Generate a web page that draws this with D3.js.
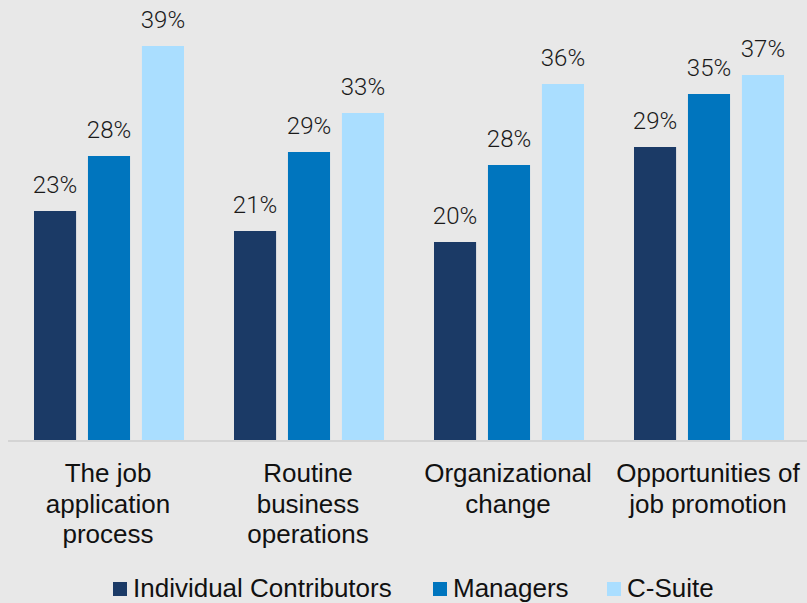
<!DOCTYPE html>
<html>
<head>
<meta charset="utf-8">
<script src="https://cdn.jsdelivr.net/npm/d3@7"></script>
<style>
  html, body { margin: 0; padding: 0; background: #e8e8e8; }
  svg { display: block; }
</style>
</head>
<body>
<div class="canvas"></div>
<script>
const categories = [
  ['The job', 'application', 'process'],
  ['Routine', 'business', 'operations'],
  ['Organizational', 'change'],
  ['Opportunities of', 'job promotion']
];
const seriesNames = ['Individual Contributors', 'Managers', 'C-Suite'];
// values; labels show the rounded figure
const contributors = [22.9, 20.9, 19.8, 29.3];
const managers = [28.4, 28.8, 27.5, 34.6];
const csuite = [39.4, 32.7, 35.6, 36.5];
const colors = ['#1b3a66', '#0075be', '#aadeff'];

const dims = { width: 807, height: 603 };
const baseY = 440;

const svg = d3.select('.canvas')
  .append('svg')
  .attr('width', dims.width)
  .attr('height', dims.height);

svg.append('rect')
  .attr('width', dims.width)
  .attr('height', dims.height)
  .attr('fill', '#e8e8e8');

const catKeys = categories.map(c => c.join(' '));

const x = d3.scaleBand()
  .domain(catKeys)
  .range([9, 809]);

const xInner = d3.scaleBand()
  .domain(seriesNames)
  .range([25, 175])
  .paddingInner(0.22);

const y = d3.scaleLinear()
  .domain([0, 40])
  .range([baseY, baseY - 400]);

const rows = catKeys.map((k, i) => ({
  key: k,
  values: [contributors[i], managers[i], csuite[i]]
}));

const groups = svg.selectAll('.group')
  .data(rows)
  .enter().append('g')
  .attr('class', 'group')
  .attr('transform', d => `translate(${x(d.key)}, 0)`);

const bars = groups.selectAll('.bar')
  .data(d => d.values.map((v, j) => ({ name: seriesNames[j], value: v, j })))
  .enter();

bars.append('rect')
  .attr('class', 'bar')
  .attr('x', d => xInner(d.name))
  .attr('y', d => y(d.value))
  .attr('width', xInner.bandwidth())
  .attr('height', d => y(0) - y(d.value))
  .attr('fill', d => colors[d.j]);

bars.append('text')
  .attr('x', d => xInner(d.name) + xInner.bandwidth() / 2)
  .attr('y', d => y(d.value) - 18)
  .attr('text-anchor', 'middle')
  .attr('font-family', 'Roboto, sans-serif')
  .attr('font-weight', 300)
  .attr('font-size', 24)
  .attr('fill', '#1a1a1a')
  .text(d => Math.round(d.value) + '%');

// baseline
svg.append('line')
  .attr('x1', 8)
  .attr('x2', 807)
  .attr('y1', baseY + 1)
  .attr('y2', baseY + 1)
  .attr('stroke', '#d4d4d4')
  .attr('stroke-width', 2);

// category labels
const labels = svg.selectAll('.cat')
  .data(categories)
  .enter().append('text')
  .attr('class', 'cat')
  .attr('text-anchor', 'middle')
  .attr('font-family', '"Liberation Sans", Arial, sans-serif')
  .attr('font-size', 26)
  .attr('fill', '#111');

labels.selectAll('tspan')
  .data((d, i) => d.map(line => ({ line, i })))
  .enter().append('tspan')
  .attr('x', d => x(catKeys[d.i]) + x.bandwidth() / 2 - 1)
  .attr('y', (d, k) => 482 + k * 30.5)
  .text(d => d.line);

// legend
const legendX = [113, 433, 607];
const legend = svg.selectAll('.legend')
  .data(seriesNames)
  .enter().append('g')
  .attr('class', 'legend')
  .attr('transform', (d, i) => `translate(${legendX[i]}, 582)`);

legend.append('rect')
  .attr('width', 14)
  .attr('height', 14)
  .attr('fill', (d, i) => colors[i]);

legend.append('text')
  .attr('x', 20)
  .attr('y', 15)
  .attr('font-family', '"Liberation Sans", Arial, sans-serif')
  .attr('font-size', 26)
  .attr('fill', '#111')
  .text(d => d);
</script>
</body>
</html>
